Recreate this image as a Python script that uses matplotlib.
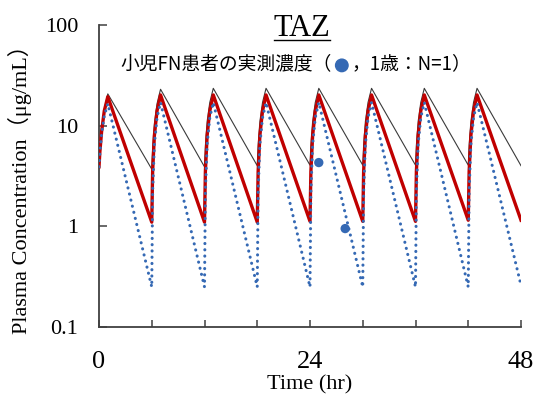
import matplotlib
matplotlib.use("Agg")
import matplotlib.pyplot as plt
from matplotlib.lines import Line2D
from matplotlib.offsetbox import AnnotationBbox, DrawingArea, HPacker, TextArea
from matplotlib.patches import Circle

SERIF = ["Liberation Serif", "Noto Sans CJK JP"]
JP = ["Noto Sans CJK JP", "Liberation Serif"]

# simulated TAZ concentration (ug/mL), q6h dosing with 1 h infusion
time_hr = [0, 0.1, 0.3, 0.6, 1,
           6, 6.1, 6.3, 6.6, 7,
           12, 12.1, 12.3, 12.6, 13,
           18, 18.1, 18.3, 18.6, 19,
           24, 24.1, 24.3, 24.6, 25,
           30, 30.1, 30.3, 30.6, 31,
           36, 36.1, 36.3, 36.6, 37,
           42, 42.1, 42.3, 42.6, 43,
           48]
conc_high = [3.9, 5.6, 9.0, 14.5, 20.7,
             3.7, 6.0, 10.5, 16.5, 23.0,
             3.9, 6.3, 11.0, 17.0, 23.5,
             4.0, 6.4, 11.0, 17.0, 23.5,
             4.05, 6.4, 11.0, 17.0, 23.5,
             4.05, 6.4, 11.0, 17.0, 23.5,
             4.05, 6.4, 11.0, 17.0, 23.5,
             4.05, 6.4, 11.0, 17.0, 23.5,
             4.0]
conc_mid = [3.9, 5.5, 8.8, 14.0, 19.4,
            1.1, 3.5, 8.0, 14.0, 20.2,
            1.1, 3.5, 8.0, 14.0, 20.2,
            1.1, 3.5, 8.0, 14.0, 20.2,
            1.12, 3.5, 8.0, 14.0, 20.2,
            1.12, 3.5, 8.0, 14.0, 20.2,
            1.12, 3.5, 8.0, 14.0, 20.2,
            1.15, 3.5, 8.0, 14.0, 20.2,
            1.15]
conc_low = [3.9, 5.3, 8.3, 12.5, 16.5,
            0.25, 2.2, 6.5, 12.0, 17.0,
            0.25, 2.2, 6.5, 12.0, 17.0,
            0.25, 2.2, 6.5, 12.0, 17.0,
            0.25, 2.2, 6.5, 12.0, 17.0,
            0.25, 2.2, 6.5, 12.0, 17.0,
            0.25, 2.2, 6.5, 12.0, 17.0,
            0.25, 2.2, 6.5, 12.0, 17.0,
            0.26]

# measured levels in a pediatric FN patient (1 y, N=1)
obs_time = [25.0, 28.0]
obs_conc = [4.3, 0.95]

xticks = [0, 6, 12, 18, 24, 30, 36, 42, 48]
xtick_labels = ["0", "", "", "", "24", "", "", "", "48"]
yticks = [0.1, 1, 10, 100]
ytick_labels = ["0.1", "1", "10", "100"]

BLUE = "#3569b4"
RED = "#c00000"
AXCOL = "#404040"

fig = plt.figure(figsize=(5.37, 3.98), dpi=100)
ax = fig.add_axes([99 / 537, 1 - 327 / 398, 422 / 537, 302 / 398])

ax.plot(time_hr, conc_high, color="#3a3a3a", lw=0.8, zorder=2)
ax.plot(time_hr, conc_mid, color=RED, lw=2.4, zorder=3)
ax.plot(time_hr, conc_low, color=BLUE, lw=2.2, ls=(0, (0.05, 2.0)),
        dash_capstyle="round", zorder=4)
ax.scatter(obs_time, obs_conc, s=45, color=BLUE, edgecolor="none", zorder=5)

ax.set_yscale("log")
ax.set_xlim(0, 48)
ax.set_ylim(0.1, 100)
ax.minorticks_off()
ax.set_xticks(xticks)
ax.set_xticklabels(xtick_labels, family=SERIF, fontsize=19)
ax.set_yticks(yticks)
ax.set_yticklabels(ytick_labels, family=SERIF, fontsize=16)
ax.tick_params(axis="x", direction="in", length=5, width=1.1, color=AXCOL, pad=17)
ax.tick_params(axis="y", direction="in", length=6, width=1.1, color=AXCOL, pad=15)
for side in ("top", "right"):
    ax.spines[side].set_visible(False)
for side in ("left", "bottom"):
    ax.spines[side].set_color(AXCOL)
    ax.spines[side].set_linewidth(1.3)

ax.set_xlabel("Time (hr)", family=SERIF, fontsize=16)
ax.xaxis.set_label_coords(0.5, -0.16)
ax.set_ylabel("Plasma Concentration（μg/mL）", family=SERIF, fontsize=16)
ax.yaxis.set_label_coords(-0.158, 0.475)

# underlined drug name
title = fig.text(302 / 537, 1 - 36 / 398, "TAZ", family=SERIF, fontsize=22,
                 ha="center", va="baseline")
fig.canvas.draw()
bb = title.get_window_extent().transformed(fig.transFigure.inverted())
fig.add_artist(Line2D([bb.x0, bb.x1], [1 - 40 / 398] * 2, color="black", lw=1.0,
                      transform=fig.transFigure))

# note with the blue marker inline
dot = DrawingArea(12, 12, 0, 0)
dot.add_artist(Circle((6, 5), 4.5, color=BLUE))
note = HPacker(children=[
    TextArea("小児FN患者の実測濃度（", textprops=dict(family=JP, fontsize=13.5)),
    dot,
    TextArea("，1歳：N=1）", textprops=dict(family=JP, fontsize=13.5)),
], align="center", pad=0, sep=1)
fig.add_artist(AnnotationBbox(note, (296 / 537, 1 - 64 / 398), xycoords="figure fraction",
                              frameon=False, box_alignment=(0.5, 0.5)))

fig.savefig("out.png", dpi=100)
